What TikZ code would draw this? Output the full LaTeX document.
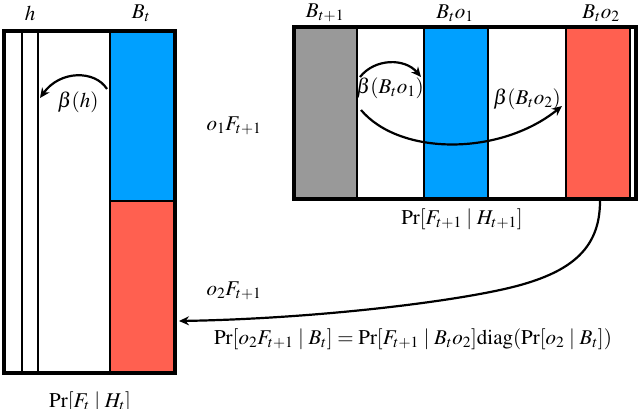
\documentclass[tikz,border=0pt]{standalone}
\usepackage{mathptmx}
\usetikzlibrary{arrows.meta}
\definecolor{cblue}{RGB}{0,160,255}
\definecolor{cred}{RGB}{255,96,80}
\definecolor{cgray}{RGB}{153,153,153}
\tikzset{
  frame/.style={draw=black,line width=4pt},
  thin/.style={draw=black,line width=2pt},
  lbl/.style={inner sep=0pt,font=\fontsize{21}{25}\selectfont},
  arr/.style={draw=black,line width=2.2pt,-{Stealth[length=10pt,width=9pt]}}
}
\begin{document}
\begin{tikzpicture}[x=1pt,y=-1pt]
\useasboundingbox (0,0) rectangle (640,409);
% left box
\fill[cblue] (110,31) rectangle (175,201);
\fill[cred] (110,201) rectangle (175,373);
\draw[thin] (22,31) -- (22,373);
\draw[thin] (38,31) -- (38,373);
\draw[thin] (110,31) -- (110,373);
\draw[thin] (110,201) -- (175,201);
\draw[frame] (4,31) rectangle (175,373);
% right box
\fill[cgray] (294,27) rectangle (357,199);
\fill[cblue] (424,27) rectangle (488,199);
\fill[cred] (566,27) rectangle (630,199);
\draw[thin] (357,27) -- (357,199);
\draw[thin] (424,27) -- (424,199);
\draw[thin] (488,27) -- (488,199);
\draw[thin] (566,27) -- (566,199);
\draw[thin] (630,27) -- (630,199);
\draw[frame] (294,27) rectangle (636,199);
% labels
\node[lbl] (h) at (30,13) {$h$};
\node[lbl] (bt) at (141,13) {$B_t$};
\node[lbl] (bt1) at (325,13) {$B_{t+1}$};
\node[lbl] (bto1) at (455,13) {$B_to_1$};
\node[lbl] (bto2) at (601,13) {$B_to_2$};
\node[lbl] (o1f) at (234,126) {$o_1F_{t+1}$};
\node[lbl] (o2f) at (234,291) {$o_2F_{t+1}$};
\node[lbl] (prr) at (462,219) {$\Pr[F_{t+1}\mid H_{t+1}]$};
\node[lbl] (prl) at (90,402) {$\Pr[F_t\mid H_t]$};
\node[lbl] (form) at (413,339) {$\Pr[o_2F_{t+1}\mid B_t]=\Pr[F_{t+1}\mid B_to_2]\mathrm{diag}(\Pr[o_2\mid B_t])$};
\node[lbl] (bh) at (78,102) {$\beta(h)$};
\node[lbl] (bb1) at (390,88) {$\beta(B_to_1)$};
\node[lbl] (bb2) at (527,99) {$\beta(B_to_2)$};
% arrows
\coordinate (a1s) at (107,89);
\coordinate (a1e) at (40,98);
\draw[arr] (a1s) .. controls (95,70) and (60,70) .. (a1e);
\coordinate (a2s) at (360,77);
\coordinate (a2e) at (421,77);
\draw[arr] (a2s) .. controls (375,58) and (405,58) .. (a2e);
\coordinate (a3s) at (361,110);
\coordinate (a3e) at (562,106);
\draw[arr] (a3s) .. controls (400,156) and (500,156) .. (a3e);
\coordinate (a4s) at (600,201);
\coordinate (a4m) at (500,290);
\coordinate (a4e) at (179,321);
\draw[arr] (a4s) .. controls (600,250) and (570,275) .. (a4m) .. controls (430,305) and (300,319) .. (a4e);
\end{tikzpicture}
\end{document}
